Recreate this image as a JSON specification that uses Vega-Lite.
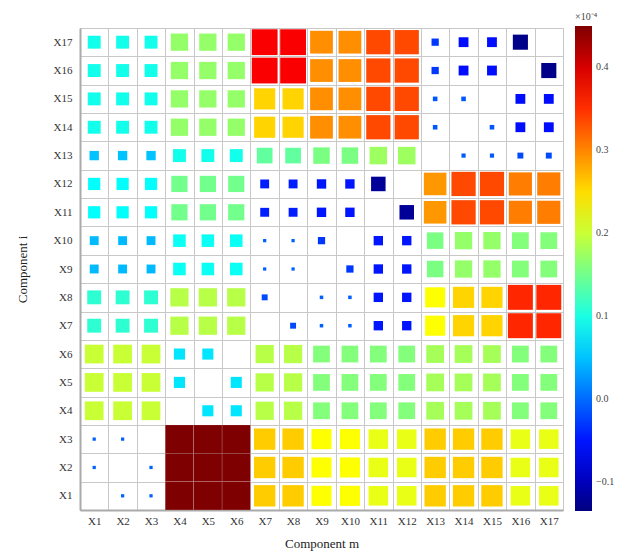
{
 "$schema": "https://vega.github.io/schema/vega-lite/v6.json",
 "width": 483, "height": 482,
 "autosize": "none",
 "padding": {"left": 80, "top": 28, "right": 68, "bottom": 43},
 "background": "white",
 "config": {"view": {"stroke": "#c8c8c8", "strokeWidth": 1}, "font": "Liberation Serif"},
 "data": {"values": [
{"i":"X17","m":"X1","v":0.095},{"i":"X17","m":"X2","v":0.095},{"i":"X17","m":"X3","v":0.095},{"i":"X17","m":"X4","v":0.17},{"i":"X17","m":"X5","v":0.17},{"i":"X17","m":"X6","v":0.17},{"i":"X17","m":"X7","v":0.38},{"i":"X17","m":"X8","v":0.38},{"i":"X17","m":"X9","v":0.295},{"i":"X17","m":"X10","v":0.295},{"i":"X17","m":"X11","v":0.335},{"i":"X17","m":"X12","v":0.335},{"i":"X17","m":"X13","v":-0.03},{"i":"X17","m":"X14","v":-0.055},{"i":"X17","m":"X15","v":-0.055},{"i":"X17","m":"X16","v":-0.13},
{"i":"X16","m":"X1","v":0.095},{"i":"X16","m":"X2","v":0.095},{"i":"X16","m":"X3","v":0.095},{"i":"X16","m":"X4","v":0.17},{"i":"X16","m":"X5","v":0.17},{"i":"X16","m":"X6","v":0.17},{"i":"X16","m":"X7","v":0.38},{"i":"X16","m":"X8","v":0.38},{"i":"X16","m":"X9","v":0.295},{"i":"X16","m":"X10","v":0.295},{"i":"X16","m":"X11","v":0.335},{"i":"X16","m":"X12","v":0.335},{"i":"X16","m":"X13","v":-0.03},{"i":"X16","m":"X14","v":-0.055},{"i":"X16","m":"X15","v":-0.055},{"i":"X16","m":"X17","v":-0.13},
{"i":"X15","m":"X1","v":0.095},{"i":"X15","m":"X2","v":0.095},{"i":"X15","m":"X3","v":0.095},{"i":"X15","m":"X4","v":0.17},{"i":"X15","m":"X5","v":0.17},{"i":"X15","m":"X6","v":0.17},{"i":"X15","m":"X7","v":0.255},{"i":"X15","m":"X8","v":0.255},{"i":"X15","m":"X9","v":0.295},{"i":"X15","m":"X10","v":0.295},{"i":"X15","m":"X11","v":0.335},{"i":"X15","m":"X12","v":0.335},{"i":"X15","m":"X13","v":-0.012},{"i":"X15","m":"X14","v":-0.012},{"i":"X15","m":"X16","v":-0.055},{"i":"X15","m":"X17","v":-0.055},
{"i":"X14","m":"X1","v":0.095},{"i":"X14","m":"X2","v":0.095},{"i":"X14","m":"X3","v":0.095},{"i":"X14","m":"X4","v":0.17},{"i":"X14","m":"X5","v":0.17},{"i":"X14","m":"X6","v":0.17},{"i":"X14","m":"X7","v":0.255},{"i":"X14","m":"X8","v":0.255},{"i":"X14","m":"X9","v":0.295},{"i":"X14","m":"X10","v":0.295},{"i":"X14","m":"X11","v":0.335},{"i":"X14","m":"X12","v":0.335},{"i":"X14","m":"X13","v":-0.012},{"i":"X14","m":"X15","v":-0.012},{"i":"X14","m":"X16","v":-0.055},{"i":"X14","m":"X17","v":-0.055},
{"i":"X13","m":"X1","v":0.05},{"i":"X13","m":"X2","v":0.05},{"i":"X13","m":"X3","v":0.05},{"i":"X13","m":"X4","v":0.095},{"i":"X13","m":"X5","v":0.095},{"i":"X13","m":"X6","v":0.095},{"i":"X13","m":"X7","v":0.14},{"i":"X13","m":"X8","v":0.14},{"i":"X13","m":"X9","v":0.155},{"i":"X13","m":"X10","v":0.155},{"i":"X13","m":"X11","v":0.175},{"i":"X13","m":"X12","v":0.175},{"i":"X13","m":"X14","v":-0.01},{"i":"X13","m":"X15","v":-0.01},{"i":"X13","m":"X16","v":-0.02},{"i":"X13","m":"X17","v":-0.02},
{"i":"X12","m":"X1","v":0.085},{"i":"X12","m":"X2","v":0.085},{"i":"X12","m":"X3","v":0.085},{"i":"X12","m":"X4","v":0.15},{"i":"X12","m":"X5","v":0.15},{"i":"X12","m":"X6","v":0.15},{"i":"X12","m":"X7","v":-0.045},{"i":"X12","m":"X8","v":-0.045},{"i":"X12","m":"X9","v":-0.05},{"i":"X12","m":"X10","v":-0.05},{"i":"X12","m":"X11","v":-0.12},{"i":"X12","m":"X13","v":0.29},{"i":"X12","m":"X14","v":0.335},{"i":"X12","m":"X15","v":0.335},{"i":"X12","m":"X16","v":0.305},{"i":"X12","m":"X17","v":0.305},
{"i":"X11","m":"X1","v":0.085},{"i":"X11","m":"X2","v":0.085},{"i":"X11","m":"X3","v":0.085},{"i":"X11","m":"X4","v":0.15},{"i":"X11","m":"X5","v":0.15},{"i":"X11","m":"X6","v":0.15},{"i":"X11","m":"X7","v":-0.045},{"i":"X11","m":"X8","v":-0.045},{"i":"X11","m":"X9","v":-0.05},{"i":"X11","m":"X10","v":-0.05},{"i":"X11","m":"X12","v":-0.12},{"i":"X11","m":"X13","v":0.29},{"i":"X11","m":"X14","v":0.335},{"i":"X11","m":"X15","v":0.335},{"i":"X11","m":"X16","v":0.305},{"i":"X11","m":"X17","v":0.305},
{"i":"X10","m":"X1","v":0.045},{"i":"X10","m":"X2","v":0.045},{"i":"X10","m":"X3","v":0.045},{"i":"X10","m":"X4","v":0.09},{"i":"X10","m":"X5","v":0.09},{"i":"X10","m":"X6","v":0.09},{"i":"X10","m":"X7","v":-0.006},{"i":"X10","m":"X8","v":-0.006},{"i":"X10","m":"X9","v":-0.03},{"i":"X10","m":"X11","v":-0.05},{"i":"X10","m":"X12","v":-0.05},{"i":"X10","m":"X13","v":0.155},{"i":"X10","m":"X14","v":0.17},{"i":"X10","m":"X15","v":0.17},{"i":"X10","m":"X16","v":0.16},{"i":"X10","m":"X17","v":0.16},
{"i":"X9","m":"X1","v":0.045},{"i":"X9","m":"X2","v":0.045},{"i":"X9","m":"X3","v":0.045},{"i":"X9","m":"X4","v":0.09},{"i":"X9","m":"X5","v":0.09},{"i":"X9","m":"X6","v":0.09},{"i":"X9","m":"X7","v":-0.006},{"i":"X9","m":"X8","v":-0.006},{"i":"X9","m":"X10","v":-0.03},{"i":"X9","m":"X11","v":-0.05},{"i":"X9","m":"X12","v":-0.05},{"i":"X9","m":"X13","v":0.155},{"i":"X9","m":"X14","v":0.17},{"i":"X9","m":"X15","v":0.17},{"i":"X9","m":"X16","v":0.16},{"i":"X9","m":"X17","v":0.16},
{"i":"X8","m":"X1","v":0.11},{"i":"X8","m":"X2","v":0.11},{"i":"X8","m":"X3","v":0.11},{"i":"X8","m":"X4","v":0.19},{"i":"X8","m":"X5","v":0.19},{"i":"X8","m":"X6","v":0.19},{"i":"X8","m":"X7","v":-0.02},{"i":"X8","m":"X9","v":-0.007},{"i":"X8","m":"X10","v":-0.007},{"i":"X8","m":"X11","v":-0.05},{"i":"X8","m":"X12","v":-0.05},{"i":"X8","m":"X13","v":0.23},{"i":"X8","m":"X14","v":0.255},{"i":"X8","m":"X15","v":0.255},{"i":"X8","m":"X16","v":0.355},{"i":"X8","m":"X17","v":0.355},
{"i":"X7","m":"X1","v":0.11},{"i":"X7","m":"X2","v":0.11},{"i":"X7","m":"X3","v":0.11},{"i":"X7","m":"X4","v":0.19},{"i":"X7","m":"X5","v":0.19},{"i":"X7","m":"X6","v":0.19},{"i":"X7","m":"X8","v":-0.02},{"i":"X7","m":"X9","v":-0.007},{"i":"X7","m":"X10","v":-0.007},{"i":"X7","m":"X11","v":-0.05},{"i":"X7","m":"X12","v":-0.05},{"i":"X7","m":"X13","v":0.23},{"i":"X7","m":"X14","v":0.255},{"i":"X7","m":"X15","v":0.255},{"i":"X7","m":"X16","v":0.355},{"i":"X7","m":"X17","v":0.355},
{"i":"X6","m":"X1","v":0.2},{"i":"X6","m":"X2","v":0.2},{"i":"X6","m":"X3","v":0.2},{"i":"X6","m":"X4","v":0.07},{"i":"X6","m":"X5","v":0.07},{"i":"X6","m":"X7","v":0.19},{"i":"X6","m":"X8","v":0.19},{"i":"X6","m":"X9","v":0.16},{"i":"X6","m":"X10","v":0.16},{"i":"X6","m":"X11","v":0.16},{"i":"X6","m":"X12","v":0.16},{"i":"X6","m":"X13","v":0.18},{"i":"X6","m":"X14","v":0.18},{"i":"X6","m":"X15","v":0.18},{"i":"X6","m":"X16","v":0.16},{"i":"X6","m":"X17","v":0.16},
{"i":"X5","m":"X1","v":0.2},{"i":"X5","m":"X2","v":0.2},{"i":"X5","m":"X3","v":0.2},{"i":"X5","m":"X4","v":0.07},{"i":"X5","m":"X6","v":0.07},{"i":"X5","m":"X7","v":0.19},{"i":"X5","m":"X8","v":0.19},{"i":"X5","m":"X9","v":0.16},{"i":"X5","m":"X10","v":0.16},{"i":"X5","m":"X11","v":0.16},{"i":"X5","m":"X12","v":0.16},{"i":"X5","m":"X13","v":0.18},{"i":"X5","m":"X14","v":0.18},{"i":"X5","m":"X15","v":0.18},{"i":"X5","m":"X16","v":0.16},{"i":"X5","m":"X17","v":0.16},
{"i":"X4","m":"X1","v":0.2},{"i":"X4","m":"X2","v":0.2},{"i":"X4","m":"X3","v":0.2},{"i":"X4","m":"X5","v":0.07},{"i":"X4","m":"X6","v":0.07},{"i":"X4","m":"X7","v":0.19},{"i":"X4","m":"X8","v":0.19},{"i":"X4","m":"X9","v":0.16},{"i":"X4","m":"X10","v":0.16},{"i":"X4","m":"X11","v":0.16},{"i":"X4","m":"X12","v":0.16},{"i":"X4","m":"X13","v":0.18},{"i":"X4","m":"X14","v":0.18},{"i":"X4","m":"X15","v":0.18},{"i":"X4","m":"X16","v":0.16},{"i":"X4","m":"X17","v":0.16},
{"i":"X3","m":"X1","v":-0.006},{"i":"X3","m":"X2","v":-0.006},{"i":"X3","m":"X4","v":0.45},{"i":"X3","m":"X5","v":0.45},{"i":"X3","m":"X6","v":0.45},{"i":"X3","m":"X7","v":0.26},{"i":"X3","m":"X8","v":0.26},{"i":"X3","m":"X9","v":0.23},{"i":"X3","m":"X10","v":0.23},{"i":"X3","m":"X11","v":0.218},{"i":"X3","m":"X12","v":0.218},{"i":"X3","m":"X13","v":0.26},{"i":"X3","m":"X14","v":0.26},{"i":"X3","m":"X15","v":0.26},{"i":"X3","m":"X16","v":0.218},{"i":"X3","m":"X17","v":0.218},
{"i":"X2","m":"X1","v":-0.006},{"i":"X2","m":"X3","v":-0.006},{"i":"X2","m":"X4","v":0.45},{"i":"X2","m":"X5","v":0.45},{"i":"X2","m":"X6","v":0.45},{"i":"X2","m":"X7","v":0.26},{"i":"X2","m":"X8","v":0.26},{"i":"X2","m":"X9","v":0.23},{"i":"X2","m":"X10","v":0.23},{"i":"X2","m":"X11","v":0.218},{"i":"X2","m":"X12","v":0.218},{"i":"X2","m":"X13","v":0.26},{"i":"X2","m":"X14","v":0.26},{"i":"X2","m":"X15","v":0.26},{"i":"X2","m":"X16","v":0.218},{"i":"X2","m":"X17","v":0.218},
{"i":"X1","m":"X2","v":-0.006},{"i":"X1","m":"X3","v":-0.006},{"i":"X1","m":"X4","v":0.45},{"i":"X1","m":"X5","v":0.45},{"i":"X1","m":"X6","v":0.45},{"i":"X1","m":"X7","v":0.26},{"i":"X1","m":"X8","v":0.26},{"i":"X1","m":"X9","v":0.23},{"i":"X1","m":"X10","v":0.23},{"i":"X1","m":"X11","v":0.218},{"i":"X1","m":"X12","v":0.218},{"i":"X1","m":"X13","v":0.26},{"i":"X1","m":"X14","v":0.26},{"i":"X1","m":"X15","v":0.26},{"i":"X1","m":"X16","v":0.218},{"i":"X1","m":"X17","v":0.218}
 ]},
 "mark": {"type": "square", "filled": true, "opacity": 1},
 "encoding": {
  "x": {"field": "m", "type": "ordinal",
   "sort": ["X1","X2","X3","X4","X5","X6","X7","X8","X9","X10","X11","X12","X13","X14","X15","X16","X17"],
   "scale": {"type": "band", "paddingInner": 0, "paddingOuter": 0},
   "axis": {"title": "Component   m", "labelAngle": 0, "tickBand": "extent", "grid": true, "gridColor": "#c8c8c8", "gridWidth": 1, "ticks": false, "domainColor": "#aaaaaa", "domainWidth": 2, "labelFont": "Liberation Serif", "labelFontSize": 11, "labelColor": "#333333", "labelPadding": 5, "titleFont": "Liberation Serif", "titleFontSize": 13, "titleFontWeight": "normal", "titleColor": "#222222", "titlePadding": 11}},
  "y": {"field": "i", "type": "ordinal",
   "sort": ["X17","X16","X15","X14","X13","X12","X11","X10","X9","X8","X7","X6","X5","X4","X3","X2","X1"],
   "scale": {"type": "band", "paddingInner": 0, "paddingOuter": 0},
   "axis": {"title": "Component   i", "tickBand": "extent", "grid": true, "gridColor": "#c8c8c8", "gridWidth": 1, "ticks": false, "domainColor": "#aaaaaa", "domainWidth": 2, "labelFont": "Liberation Serif", "labelFontSize": 11, "labelColor": "#333333", "labelPadding": 8, "titleFont": "Liberation Serif", "titleFontSize": 13, "titleFontWeight": "normal", "titleColor": "#222222", "titlePadding": 24}},
  "color": {"field": "v", "type": "quantitative",
   "scale": {"domain": [-0.135, 0.45], "zero": false, "nice": false, "interpolate": "rgb",
    "range": ["#00007f","#0000ff","#007fff","#00ffff","#7fff7f","#ffff00","#ff7f00","#ff0000","#7f0000"]},
   "legend": {"orient": "none", "legendX": 495, "legendY": -16, "direction": "vertical", "gradientLength": 485, "gradientThickness": 17, "gradientStrokeWidth": 0,
    "title": "×10⁻⁴", "titleFont": "Liberation Serif", "titleFontSize": 10, "titleFontWeight": "normal", "titleColor": "#444444", "titlePadding": 4,
    "values": [-0.1, 0, 0.1, 0.2, 0.3, 0.4], "labelOverlap": false, "labelFont": "Liberation Serif", "labelFontSize": 10, "labelColor": "#444444", "labelOffset": 4}},
  "size": {"field": "v", "type": "quantitative", "scale": {"domain": [-0.45, 0, 0.45], "range": [790, 0, 790], "zero": false, "nice": false}, "legend": null}
 }
}
